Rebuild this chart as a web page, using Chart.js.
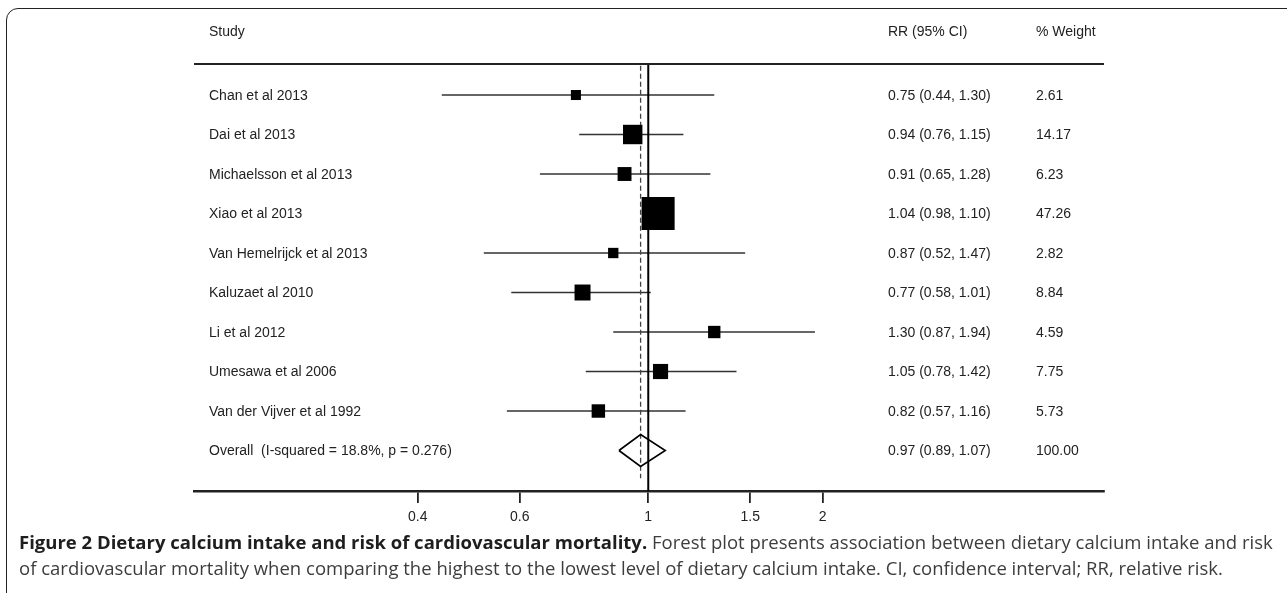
<!DOCTYPE html>
<html>
<head>
<meta charset="utf-8">
<script src="https://cdn.jsdelivr.net/npm/chart.js@4.4.1/dist/chart.umd.min.js"></script>
<style>
	html, body { margin:0; padding:0; background:#fff; }
	body { width:1287px; height:593px; overflow:hidden; position:relative; }
	#frame { position:absolute; left:6px; top:8px; width:1300px; height:600px; border:1.5px solid #222; border-radius:12px; box-sizing:border-box; }
	#wrap { position:absolute; left:0; top:0; width:1287px; height:593px; }
	#forest { display:block; width:1287px; height:593px; }
	.ln { position:absolute; left:19px; white-space:nowrap; font-family:"Open Sans", "Noto Sans", sans-serif; font-size:18px; line-height:24px; color:#3d3d3d; transform-origin:0 50%; }
	.ln b { color:#1e1e1e; font-weight:700; }
	#l1 { top:530px; }
	#l2 { top:556px; }
</style>
</head>
<body>
<div id="frame"></div>
<div id="wrap"><canvas id="forest" width="1287" height="593"></canvas></div>
<div class="ln" id="l1"><b>Figure 2 Dietary calcium intake and risk of cardiovascular mortality.</b> Forest plot presents association between dietary calcium intake and risk</div>
<div class="ln" id="l2">of cardiovascular mortality when comparing the highest to the lowest level of dietary calcium intake. CI, confidence interval; RR, relative risk.</div>
<script>
	// study data, top to bottom
	const STUDIES = ['Chan et al 2013', 'Dai et al 2013', 'Michaelsson et al 2013', 'Xiao et al 2013',
		'Van Hemelrijck et al 2013', 'Kaluzaet al 2010', 'Li et al 2012', 'Umesawa et al 2006', 'Van der Vijver et al 1992'];
	const RR = [0.75, 0.94, 0.91, 1.04, 0.87, 0.77, 1.30, 1.05, 0.82];
	const LOWER = [0.44, 0.76, 0.65, 0.98, 0.52, 0.58, 0.87, 0.78, 0.57];
	const UPPER = [1.30, 1.15, 1.28, 1.10, 1.47, 1.01, 1.94, 1.42, 1.16];
	const WEIGHT = [2.61, 14.17, 6.23, 47.26, 2.82, 8.84, 4.59, 7.75, 5.73];

	const OVERALL_LABEL = 'Overall  (I-squared = 18.8%, p = 0.276)';
	const OVERALL_RR = 0.97;
	const OVERALL_LOWER = 0.89;
	const OVERALL_UPPER = 1.07;
	const OVERALL_WEIGHT = 100.00;

	const HEADERS = ['Study', 'RR (95% CI)', '% Weight'];
	const X_TICKS = [0.4, 0.6, 1, 1.5, 2];

	const FONT = '"Liberation Sans", Arial, sans-serif';
	const INK = '#222';
	const ROW_OVERALL = STUDIES.length;
	const maxW = Math.max.apply(null, WEIGHT);

	function boxRadius(w){
		// box area grows with weight; side in px
		const side = 3 + 30 * Math.sqrt(w / maxW);
		return side / Math.SQRT2;
	}

	const ciSets = STUDIES.map(function(s, i){
		return {
			type:'scatter', showLine:true, data:[{x:LOWER[i], y:i}, {x:UPPER[i], y:i}],
			borderColor:'#333', borderWidth:1.5, pointRadius:0, order:3
		};
	});

	const boxes = {
		type:'scatter',
		data: RR.map(function(v, i){ return {x:v, y:i}; }),
		pointStyle:'rect', backgroundColor:'#000', borderWidth:0,
		pointRadius: WEIGHT.map(boxRadius), order:1
	};

	const dh = 0.405; // half height of diamond in rows
	const diamond = {
		type:'scatter', showLine:true, fill:false,
		data:[
			{x:OVERALL_LOWER, y:ROW_OVERALL}, {x:OVERALL_RR, y:ROW_OVERALL - dh},
			{x:OVERALL_UPPER, y:ROW_OVERALL}, {x:OVERALL_RR, y:ROW_OVERALL + dh},
			{x:OVERALL_LOWER, y:ROW_OVERALL}
		],
		borderColor:'#000', borderWidth:1.6, pointRadius:0, tension:0, order:0
	};

	const nullLine = {
		type:'scatter', showLine:true, data:[{x:1, y:-0.8}, {x:1, y:10.1}],
		borderColor:'#000', borderWidth:2, pointRadius:0, order:2
	};

	const pooledLine = {
		type:'scatter', showLine:true, data:[{x:OVERALL_RR, y:-0.74}, {x:OVERALL_RR, y:9.7}],
		borderColor:'#444', borderWidth:1.3, borderDash:[5, 3], pointRadius:0, order:2
	};

	const textColumns = {
		id:'textColumns',
		afterDraw(chart){
			const ctx = chart.ctx;
			const area = chart.chartArea;
			const y = chart.scales.y;
			ctx.save();
			// header rule
			ctx.strokeStyle = '#222';
			ctx.lineWidth = 2;
			ctx.beginPath();
			ctx.moveTo(area.left, area.top);
			ctx.lineTo(area.right, area.top);
			ctx.stroke();

			ctx.font = '14px ' + FONT;
			ctx.fillStyle = INK;
			ctx.textBaseline = 'middle';
			ctx.textAlign = 'left';
			const colStudy = 209, colRR = 888, colW = 1036;
			ctx.fillText(HEADERS[0], colStudy, 32);
			ctx.fillText(HEADERS[1], colRR, 32);
			ctx.fillText(HEADERS[2], colW, 32);

			STUDIES.forEach(function(s, i){
				const py = y.getPixelForValue(i) + 1;
				ctx.fillText(s, colStudy, py);
				ctx.fillText(RR[i].toFixed(2) + ' (' + LOWER[i].toFixed(2) + ', ' + UPPER[i].toFixed(2) + ')', colRR, py);
				ctx.fillText(WEIGHT[i].toFixed(2), colW, py);
			});
			const po = y.getPixelForValue(ROW_OVERALL) + 1;
			ctx.fillText(OVERALL_LABEL, colStudy, po);
			ctx.fillText(OVERALL_RR.toFixed(2) + ' (' + OVERALL_LOWER.toFixed(2) + ', ' + OVERALL_UPPER.toFixed(2) + ')', colRR, po);
			ctx.fillText(OVERALL_WEIGHT.toFixed(2), colW, po);
			ctx.restore();
		}
	};

	window.addEventListener('DOMContentLoaded', function(){
		const canvas = document.getElementById('forest');
		new Chart(canvas.getContext('2d'), {
			type:'scatter',
			data:{ datasets: ciSets.concat([nullLine, pooledLine, boxes, diamond]) },
			options:{
				responsive:false,
				animation:false,
				devicePixelRatio:1,
				layout:{ padding:{ left:194, right:183, top:64, bottom:62 } },
				plugins:{ legend:{ display:false }, tooltip:{ enabled:false }, title:{ display:false } },
				scales:{
					x:{
						type:'logarithmic', min:0.1643, max:6.122,
						afterBuildTicks(scale){ scale.ticks = X_TICKS.map(function(v){ return {value:v}; }); },
						afterFit(scale){ scale.height = 40; },
						border:{ display:true, color:'#222', width:2.6 },
						grid:{ drawOnChartArea:false, drawTicks:true, tickLength:12, color:'#222', lineWidth:1.8 },
						ticks:{ autoSkip:false, maxRotation:0, padding:6, color:INK, font:{ family:FONT, size:14 },
							callback:function(v){ return String(v); } }
					},
					y:{
						type:'linear', display:false, reverse:true, min:-0.785, max:10.025
					}
				}
			},
			plugins:[textColumns]
		});

		// fit caption lines to the reference width
		const l1 = document.getElementById('l1');
		const l2 = document.getElementById('l2');
		const k = 1254 / l1.scrollWidth;
		l1.style.transform = 'scaleX(' + k + ')';
		l2.style.transform = 'scaleX(' + k + ')';
	});
</script>
</body>
</html>
